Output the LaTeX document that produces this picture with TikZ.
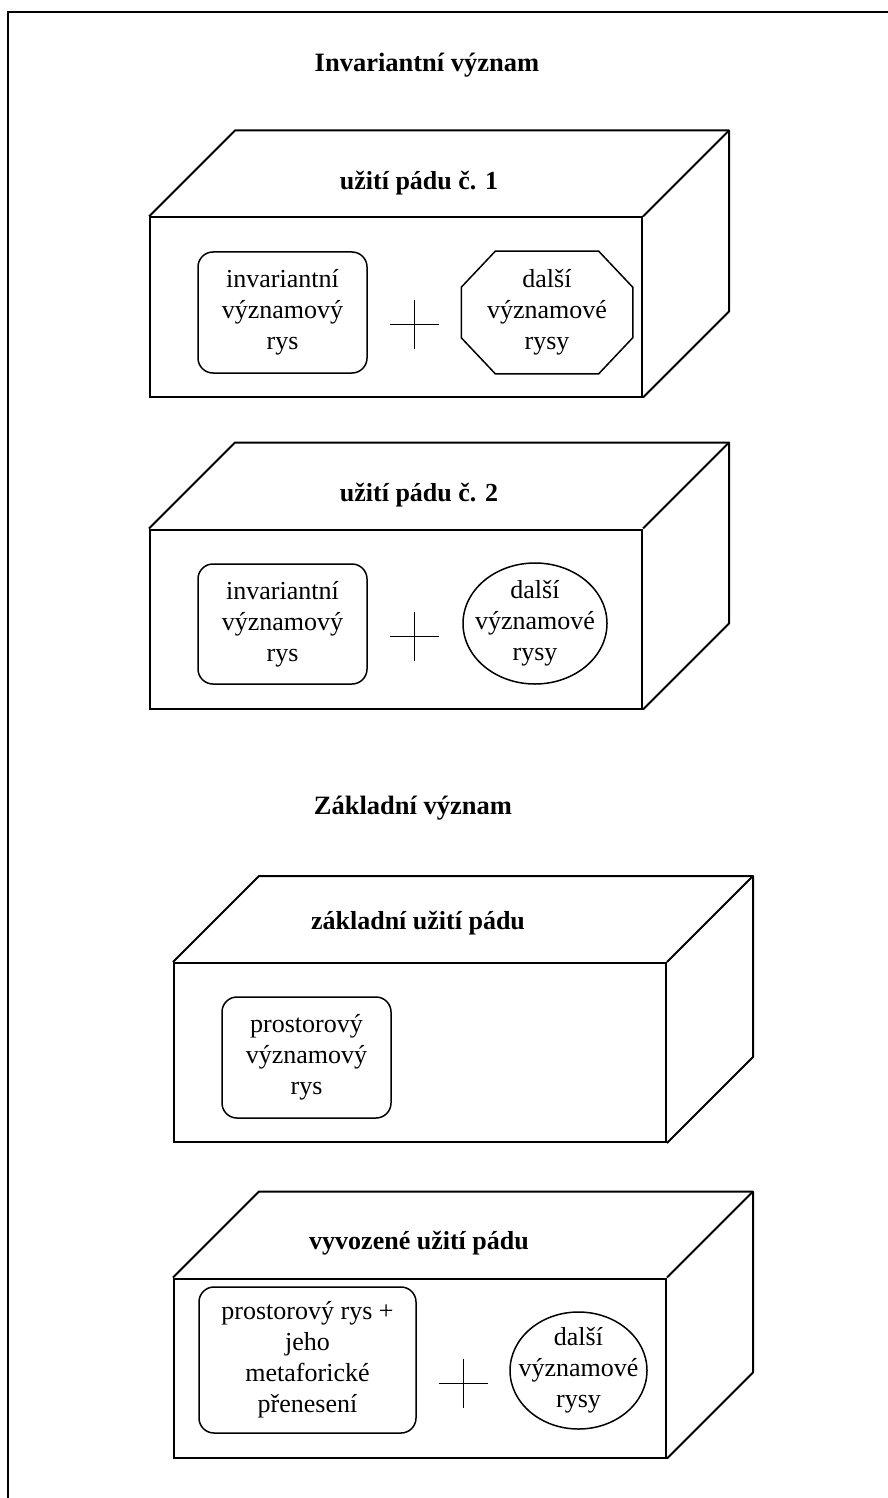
\documentclass[tikz,border=0pt]{standalone}
\usepackage{fontspec}
\setmainfont{Liberation Serif}
\usetikzlibrary{shapes.geometric}
\begin{document}
\begin{tikzpicture}[x=0.5pt,y=-0.5pt]
    \useasboundingbox (0,0) rectangle (888,1498);
    % frame
    \draw[line width=1pt] (8,1498) -- (8,12) -- (888,12);
    % headings
    \begin{scope}
        \tikzstyle{every node}=[font=\bfseries\fontsize{13.25}{16}\selectfont, inner sep=0pt]
        \node (inv) at (427,65) {Invariantní význam};
        \node (zakl) at (413,808) {Základní význam};
    \end{scope}
    % front faces
    \begin{scope}
        \tikzstyle{every node}=[draw=black, line width=1pt, rectangle, minimum width=246pt, minimum height=89.5pt, inner sep=0pt]
        \node (box1) at (396,307) {};
        \node (box2) at (396,619) {};
        \node (box3) at (420,1052.5) {};
        \node (box4) at (420,1368) {};
    \end{scope}
    % top and side faces
    \foreach \b in {box1,box2,box3,box4} {
        \draw[line width=1pt, line join=round] (\b.north west) -- ([shift={(86,-86)}]\b.north west)
            -- ([shift={(86,-86)}]\b.north east) -- ([shift={(86,-86)}]\b.south east) -- (\b.south east);
        \draw[line width=1pt] (\b.north east) -- ([shift={(86,-86)}]\b.north east);
    }
    % box titles
    \begin{scope}
        \tikzstyle{every node}=[font=\bfseries\fontsize{13}{15}\selectfont, inner sep=0pt]
        \node (title1) at (419,183) {užití pádu č. 1};
        \node (title2) at (419,495) {užití pádu č. 2};
        \node (title3) at (418,923) {základní užití pádu};
        \node (title4) at (419,1243) {vyvozené užití pádu};
    \end{scope}
    % meaning features
    \begin{scope}
        \tikzstyle{every node}=[draw=black, line width=0.75pt, align=center, inner sep=0pt, font=\fontsize{13}{15.5}\selectfont]
        \node[rounded corners=7.5pt, minimum width=84.5pt, minimum height=60.5pt] (inv1) at (282.5,312.5) {invariantní\\významový\\rys};
        \node[draw=none, minimum width=85pt, minimum height=60.5pt] (dal1) at (547,312.5) {další\\významové\\rysy};
        \node[rounded corners=7.5pt, minimum width=84.5pt, minimum height=60pt] (inv2) at (282.5,624) {invariantní\\významový\\rys};
        \node[ellipse, inner sep=-7pt, minimum width=72pt, minimum height=60.5pt] (dal2) at (535,623.5) {další\\významové\\rysy};
        \node[rounded corners=7.5pt, minimum width=84.5pt, minimum height=60.5pt] (pros3) at (306.5,1057.5) {prostorový\\významový\\rys};
        \node[rounded corners=7.5pt, minimum width=108.5pt, minimum height=73pt] (pros4) at (307.5,1360) {prostorový rys +\\jeho\\metaforické\\přenesení};
        \node[ellipse, inner sep=-7pt, minimum width=68.5pt, minimum height=58.5pt] (dal4) at (578.5,1370.5) {další\\významové\\rysy};
    \end{scope}
    % octagon round dal1
    \draw[line width=0.75pt] ([xshift=17pt]dal1.north west) -- ([xshift=-17pt]dal1.north east)
        -- ([yshift=-18pt]dal1.north east) -- ([yshift=18pt]dal1.south east)
        -- ([xshift=-17pt]dal1.south east) -- ([xshift=17pt]dal1.south west)
        -- ([yshift=18pt]dal1.south west) -- ([yshift=-18pt]dal1.north west) -- cycle;
    % plus signs
    \coordinate (plus1) at (414.5,324);
    \coordinate (plus2) at (414.5,636);
    \coordinate (plus4) at (463,1383);
    \foreach \p in {plus1,plus2,plus4}
        \draw[line width=0.5pt] (\p) +(-24.5,0) -- +(24.5,0) (\p) +(0,-24.5) -- +(0,24.5);
\end{tikzpicture}
\end{document}
